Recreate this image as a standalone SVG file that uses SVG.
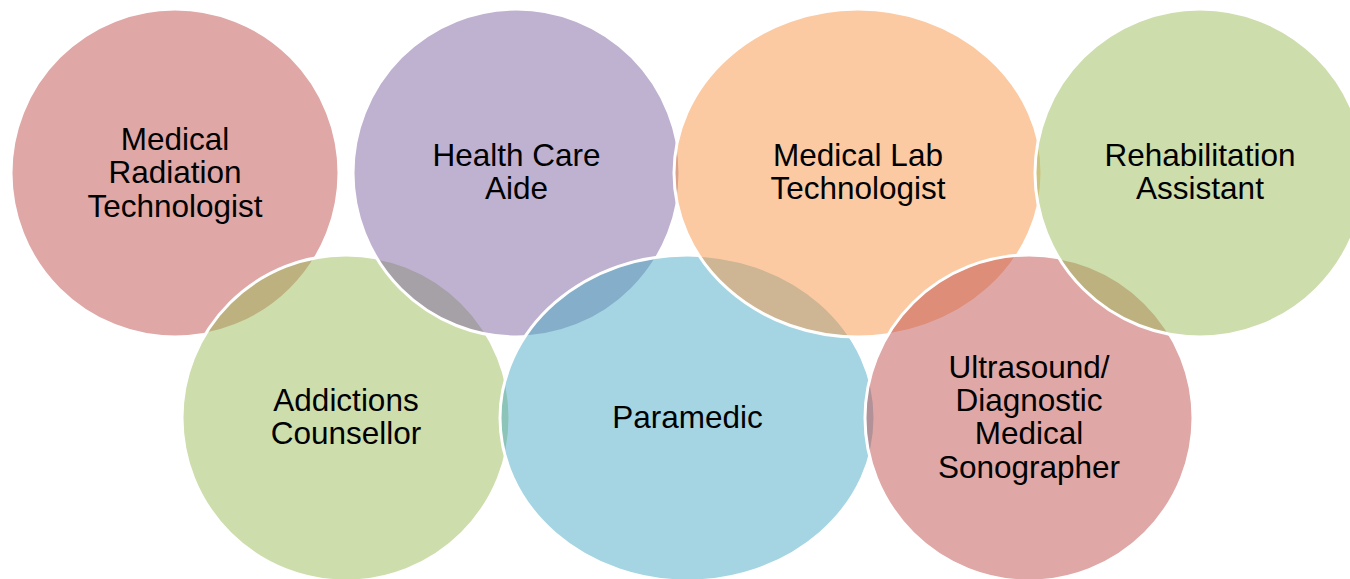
<svg xmlns="http://www.w3.org/2000/svg" width="1350" height="579" viewBox="0 0 1350 579">
<style>
.c{stroke:#FFFFFF;stroke-width:3;fill-opacity:0.5}
.red{fill:#C0504D}
.green{fill:#9BBB59}
.purple{fill:#8064A2}
.blue{fill:#4BACC6}
.orange{fill:#F79646}
text{font-family:"Liberation Sans",Arial,sans-serif;font-size:31.5px;fill:#000000;text-anchor:middle}
</style>
<rect width="1350" height="579" fill="#FFFFFF"/>
<g id="connectors"></g>
<g id="node-radiation">
<ellipse class="c red" cx="175" cy="173" rx="164" ry="164"/>
<text x="175" y="150">Medical</text>
<text x="175" y="183.3">Radiation</text>
<text x="175" y="216.7">Technologist</text>
</g>
<g id="node-addictions">
<ellipse class="c green" cx="346" cy="418" rx="164" ry="163"/>
<text x="346" y="411">Addictions</text>
<text x="346" y="444.3">Counsellor</text>
</g>
<g id="node-healthcare">
<ellipse class="c purple" cx="516.5" cy="173" rx="163.5" ry="164"/>
<text x="516.5" y="165.7">Health Care</text>
<text x="516.5" y="199">Aide</text>
</g>
<g id="node-paramedic">
<ellipse class="c blue" cx="687.5" cy="418" rx="187.5" ry="163"/>
<text x="687.5" y="428.3">Paramedic</text>
</g>
<g id="node-lab">
<ellipse class="c orange" cx="858" cy="173" rx="184" ry="164"/>
<text x="858" y="165.7">Medical Lab</text>
<text x="858" y="199">Technologist</text>
</g>
<g id="node-ultrasound">
<ellipse class="c red" cx="1029" cy="418" rx="164" ry="163"/>
<text x="1029" y="377.7">Ultrasound/</text>
<text x="1029" y="411">Diagnostic</text>
<text x="1029" y="444.3">Medical</text>
<text x="1029" y="477.7">Sonographer</text>
</g>
<g id="node-rehab">
<ellipse class="c green" cx="1200" cy="173" rx="165" ry="164"/>
<text x="1200" y="165.7">Rehabilitation</text>
<text x="1200" y="199">Assistant</text>
</g>
</svg>
